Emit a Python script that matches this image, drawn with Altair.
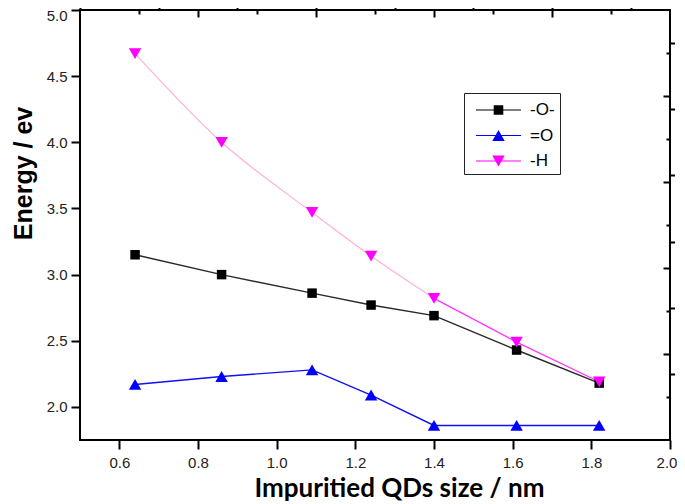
import altair as alt
import pandas as pd

# ---------------- data ----------------
sizes = [0.64, 0.86, 1.09, 1.24, 1.40, 1.61, 1.82]
energy_bridge_O = [3.15, 3.00, 2.86, 2.77, 2.69, 2.43, 2.18]
energy_double_O = [2.17, 2.23, 2.28, 2.09, 1.86, 1.86, 1.86]
energy_H = [4.67, 4.00, 3.47, 3.14, 2.82, 2.49, 2.19]
series_names = ["-O-", "=O", "-H"]
marker_colors = ["#000000", "#0000ff", "#ff00ff"]
marker_shapes = ["square", "triangle-up", "triangle-down"]
marker_sizes = [90, 155, 155]

x_major = [0.6, 0.8, 1.0, 1.2, 1.4, 1.6, 1.8, 2.0]
x_minor = [0.5, 0.7, 0.9, 1.1, 1.3, 1.5, 1.7, 1.9]
y_major = [2.0, 2.5, 3.0, 3.5, 4.0, 4.5, 5.0]
y_minor = [2.25, 2.75, 3.25, 3.75, 4.25, 4.75]
frame_major = [2, 4, 6, 8]
frame_minor = [1, 3, 5, 7, 9]
frame_domain = [0, 10]

rows = []
for name, vals in zip(series_names, [energy_bridge_O, energy_double_O, energy_H]):
    for i, (s, e) in enumerate(zip(sizes, vals)):
        rows.append({"series": name, "size": s, "energy": e, "idx": i})
df = pd.DataFrame(rows)
frame_df = pd.DataFrame({"fx": frame_domain, "fy": frame_domain})

# legend symbols: line segment + marker (custom paths, unit = sqrt(symbolSize)/2)
legend_paths = [
    "M-1.875,-0.05H1.875V0.05H-1.875Z M-0.4,-0.4H0.4V0.4H-0.4Z",
    "M-1.875,-0.05H1.875V0.05H-1.875Z M0,-0.45L0.52,0.45H-0.52Z",
    "M-1.875,-0.05H1.875V0.05H-1.875Z M-0.52,-0.45H0.52L0,0.45Z",
]

xs = alt.Scale(domain=[0.5, 2.0], nice=False, zero=False)
ys = alt.Scale(domain=[1.75, 5.0], nice=False, zero=False)

x_axis_major = alt.Axis(
    values=x_major, format=".1f", tickSize=9, tickWidth=2, tickColor="black",
    domain=False, grid=False, labelFont="Liberation Sans", labelFontSize=15,
    labelColor="#222222", labelPadding=6, labelFlush=False,
    labelOffset={"condition": {"test": "datum.value > 1.95", "value": -3.5}, "value": 0},
    title="Impuritied QDs size / nm", titleFont="Lato", titleFontSize=26,
    titleFontWeight="bold", titleColor="black", titleX=319, titleY=35.5,
)
y_axis_major = alt.Axis(
    values=y_major, format=".1f", tickSize=9, tickWidth=2, tickColor="black",
    domain=False, grid=False, labelFont="Liberation Sans", labelFontSize=15,
    labelColor="#222222", labelPadding=4,
    labelOffset={"condition": {"test": "datum.value > 4.95", "value": 5}, "value": 0},
    title="Energy / ev", titleFont="Liberation Sans", titleFontSize=25,
    titleFontWeight="bold", titleColor="black", titleX=-44, titleY=163,
)
x_axis_minor = alt.Axis(values=x_minor, labels=False, tickSize=4.5, tickWidth=2,
                        tickColor="black", domain=False, grid=False, title=None)
y_axis_minor = alt.Axis(values=y_minor, labels=False, tickSize=4.5, tickWidth=2,
                        tickColor="black", domain=False, grid=False, title=None)

base = alt.Chart(df)
X = lambda axis: alt.X("size:Q", scale=xs, axis=axis)
Y = lambda axis: alt.Y("energy:Q", scale=ys, axis=axis)

line_O = base.transform_filter(alt.datum.series == "-O-").mark_line(
    color="#2a2a2a", strokeWidth=1.5
).encode(x=X(x_axis_major), y=Y(y_axis_major))
line_dO = base.transform_filter(alt.datum.series == "=O").mark_line(
    color="#1010f0", strokeWidth=1.4
).encode(x=X(x_axis_minor), y=Y(y_axis_minor))
line_H1 = base.transform_filter(
    (alt.datum.series == "-H") & (alt.datum.idx <= 4)
).mark_line(color="#ffb0d8", strokeWidth=1.2, interpolate="monotone").encode(
    x=X(None), y=Y(None))
line_H2 = base.transform_filter(
    (alt.datum.series == "-H") & (alt.datum.idx >= 4)
).mark_line(color="#ff33ff", strokeWidth=1.3).encode(x=X(None), y=Y(None))

# visible markers, one layer per series
point_layers = []
for name, col, shp, sz in zip(series_names, marker_colors, marker_shapes, marker_sizes):
    point_layers.append(
        base.transform_filter(alt.datum.series == name)
        .mark_point(filled=True, opacity=1, color=col, shape=shp, size=sz)
        .encode(x=X(None), y=Y(None))
    )

# legend generator: invisible marks whose legend shows line + marker symbols
legend = alt.Legend(
    title=None, orient="none", legendX=384, legendY=83, fillColor="white",
    symbolSize=576, symbolStrokeWidth=0, symbolOffset=17.5, labelOffset=19.5,
    symbolOpacity=1, labelFont="Liberation Sans", labelFontSize=17,
    labelColor="black", labelExpr="datum.label + '\u00a0'",
)
legend_layer = base.mark_point(filled=True, opacity=0).encode(
    x=X(None), y=Y(None),
    color=alt.Color("series:N", scale=alt.Scale(domain=series_names, range=marker_colors),
                    legend=legend),
    shape=alt.Shape("series:N", scale=alt.Scale(domain=series_names, range=legend_paths),
                    legend=legend),
)

main = alt.layer(line_O, line_dO, line_H1, line_H2, *point_layers, legend_layer).resolve_axis(
    x="independent", y="independent"
)

# mirror frame ticks on top and right (inward)
fxs = alt.Scale(domain=frame_domain, nice=False, zero=False)
fys = alt.Scale(domain=frame_domain, nice=False, zero=False)
fbase = alt.Chart(frame_df).mark_point(opacity=0)


def frame_axis(orient, values, size):
    return alt.Axis(orient=orient, values=values, labels=False, tickSize=size, tickWidth=2,
                    tickColor="black", domain=False, grid=False, title=None, offset=-size)


frame_major_layer = fbase.encode(
    x=alt.X("fx:Q", scale=fxs, axis=frame_axis("top", frame_major, 7)),
    y=alt.Y("fy:Q", scale=fys, axis=frame_axis("right", frame_major, 7)),
)
frame_minor_layer = fbase.encode(
    x=alt.X("fx:Q", scale=fxs, axis=frame_axis("top", frame_minor, 4)),
    y=alt.Y("fy:Q", scale=fys, axis=frame_axis("right", frame_minor, 4)),
)
frame = alt.layer(frame_major_layer, frame_minor_layer).resolve_axis(
    x="independent", y="independent"
)

chart = alt.layer(main, frame).resolve_scale(
    x="independent", y="independent"
).properties(
    width=590, height=430,
    autosize=alt.AutoSizeParams(type="none"),
    padding={"left": 72, "top": 2, "right": 7, "bottom": 64},
    background="white",
).configure_view(
    stroke="black", strokeWidth=2
).configure_legend(
    strokeColor="#222222", strokeWidth=1, padding=5, rowPadding=5.5
)

chart.save("out.html", embed_options={"renderer": "svg", "actions": False})
